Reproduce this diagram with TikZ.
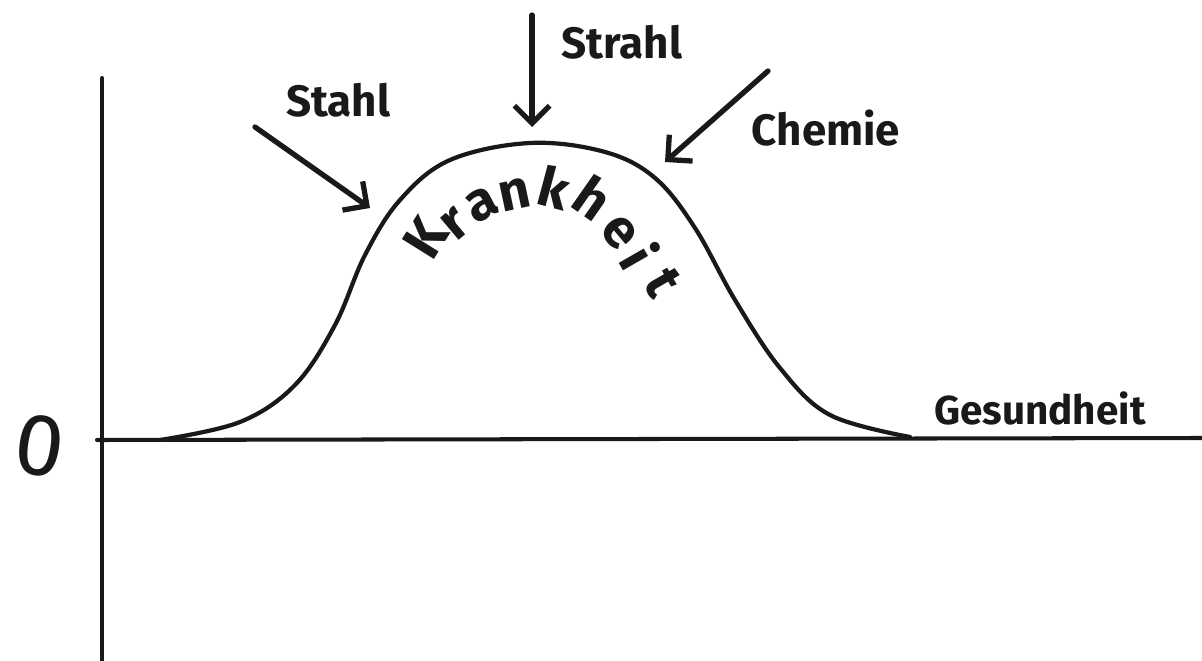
\documentclass[tikz,border=0pt]{standalone}
\usepackage{fontspec}
\setmainfont{Fira Sans}
\usetikzlibrary{arrows.meta}
\begin{document}
\begin{tikzpicture}[x=0.02cm,y=-0.02cm,
  ink/.style={draw=black!90, line cap=round, line join=round},
  axis/.style={ink, line width=2.3pt},
  curvestyle/.style={ink, line width=2.4pt},
  hand/.style={font=\fontsize{25}{27}\selectfont\bfseries, text=black!90, inner sep=0pt},
  letter/.style={font=\fontsize{31}{33}\selectfont\bfseries, text=black!90, inner sep=0pt},
  pointer/.style={ink, line width=3pt, -{Straight Barb[length=10pt,width=20pt,line width=3pt]}}
]
\useasboundingbox[fill=white] (0,0) rectangle (1202,661);
% axes
\coordinate (vtop) at (102,78);
\coordinate (vbot) at (102,661);
\coordinate (hleft) at (97,440);
\coordinate (hright) at (1202,438);
\draw[axis] (vtop) -- (vbot);
\draw[axis] (hleft) -- (hright);
\node[font=\fontsize{50}{52}\selectfont, text=black!90, inner sep=0pt, rotate=-8] (zero) at (40,446) {0};
% bell curve
\draw[curvestyle] plot[smooth, tension=0.6] coordinates {
 (160,440) (240,422) (295,385) (335,325) (365,255) (400,200) (450,160)
 (530,143) (605,152) (655,178) (695,228) (735,300) (780,368) (830,415) (910,437)};
% arrows and labels
\coordinate (sA) at (255,127); \coordinate (sB) at (370,208);
\coordinate (tA) at (532,15);  \coordinate (tB) at (532,127);
\coordinate (cA) at (768,71);  \coordinate (cB) at (665,162);
\draw[pointer] (sA) -- (sB);
\draw[pointer] (tA) -- (tB);
\draw[pointer] (cA) -- (cB);
\node[hand] (stahl) at (338,100) {Stahl};
\node[hand] (strahl) at (622,42) {Strahl};
\node[hand] (chemie) at (826,128) {Chemie};
\node[hand, font=\fontsize{23}{25}\selectfont\bfseries] (gesund) at (1040,408) {Gesundheit};
% Krankheit along the arc
\node[letter, rotate=58] (k1) at (426,238) {K};
\node[letter, rotate=40] (k2) at (455,224) {r};
\node[letter, rotate=28] (k3) at (482,205) {a};
\node[letter, rotate=12] (k4) at (515,195) {n};
\node[letter, rotate=-15] (k5) at (554,187) {k};
\node[letter, rotate=-35] (k6) at (593,198) {h};
\node[letter, rotate=-50] (k7) at (619,233) {e};
\node[letter, rotate=-60] (k8) at (640,256) {i};
\node[letter, rotate=-60] (k9) at (663,283) {t};
\end{tikzpicture}
\end{document}
